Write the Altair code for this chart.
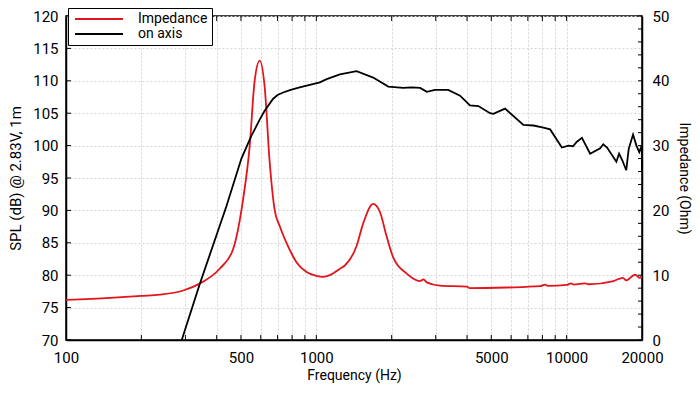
import altair as alt
import pandas as pd

# ---------------- data ----------------
imp_freq = [100, 150, 200, 237, 292, 342, 411, 465, 509, 542, 567, 594, 622, 651, 682,
            714, 737, 760, 800, 833, 914, 1000, 1065, 1132, 1242, 1300, 1448, 1539, 1687,
            1795, 1909, 2028, 2296, 2594, 2680, 2760, 3118, 3990, 4100, 5768, 7833,
            8204, 8400, 10020, 10400, 10700, 11860, 12200, 15380, 16780, 17300,
            18790, 19540, 20000]
imp_ohm = [6.2, 6.5, 6.8, 7.0, 7.6, 8.7, 11.0, 14.0, 21.5, 30.0, 40.0, 43.1, 39.0, 27.5, 20.0,
           17.6, 16.2, 15.0, 13.2, 12.0, 10.5, 9.9, 9.75, 10.0, 11.0, 11.5, 14.5, 18.0, 21.0,
           19.75, 16.0, 12.75, 10.25, 9.1, 9.35, 8.9, 8.4, 8.25, 8.0, 8.1, 8.3,
           8.55, 8.35, 8.5, 8.75, 8.55, 8.75, 8.6, 9.1, 9.6, 9.2,
           10.1, 9.6, 9.9]

spl_freq = [290, 342, 437, 502, 550, 594, 620, 671, 700, 737, 790, 858, 1033, 1100, 1242,
            1448, 1687, 1938, 2224, 2402, 2600, 2763, 2978, 3366, 3750, 4110, 4440, 4943,
            5096, 5675, 6716, 7366, 8000, 8590, 9570, 10170, 10600, 10990, 11510, 12410,
            13610, 14000, 14500, 15380, 15800, 16200, 16700, 17300, 17700, 18420,
            19000, 19500, 19950, 20000]
spl_db = [70.0, 78.6, 90.6, 98.0, 101.5, 104.0, 105.3, 107.2, 107.8, 108.2, 108.6, 109.0,
          109.75, 110.25, 111.0, 111.5, 110.5, 109.1, 108.9, 109.0, 108.9, 108.3, 108.6,
          108.6, 107.7, 106.2, 106.1, 105.0, 104.9, 105.7, 103.2, 103.1, 102.8, 102.5,
          99.7, 100.0, 99.9, 100.6, 101.2, 98.75, 99.6, 100.2, 99.7, 98.2, 97.5, 98.75,
          97.7, 96.2, 99.5, 101.7, 100.0, 99.0, 100.0, 96.0]

grid_freqs = [100, 200, 300, 400, 500, 600, 700, 800, 900, 1000,
              2000, 3000, 4000, 5000, 6000, 7000, 8000, 9000, 10000, 20000]
label_freqs = [100, 500, 1000, 5000, 10000, 20000]
spl_ticks = [70, 75, 80, 85, 90, 95, 100, 105, 110, 115, 120]
imp_major = [0, 10, 20, 30, 40, 50]
imp_minor = list(range(0, 51, 2))
series_names = ["Impedance", "on axis"]
series_colors = ["#e3141b", "#000000"]

# ---------------- chart ----------------
W, H = 576, 324
FONT = "Roboto"

imp_df = pd.DataFrame({"f": imp_freq, "z": imp_ohm, "s": series_names[0]})
spl_df = pd.DataFrame({"f": spl_freq, "db": spl_db, "s": series_names[1]})

xscale = alt.Scale(type="log", domain=[100, 20000], nice=False)

legend = alt.Legend(
    title=None, orient="none", legendX=2, legendY=-8,
    strokeColor="black", fillColor="white", padding=4, cornerRadius=0,
    symbolType="M-4,0H4", symbolSize=144, symbolStrokeWidth=2,
    symbolOffset=20, labelOffset=32, rowPadding=1,
    labelFont=FONT, labelFontSize=14, labelColor="black",
)
color = alt.Color("s:N", scale=alt.Scale(domain=series_names, range=series_colors), legend=legend)

label_expr = "indexof([" + ",".join(str(v) for v in label_freqs) + "], datum.value) >= 0 ? format(datum.value, 'd') : ''"

xaxis = alt.Axis(
    title="Frequency (Hz)", values=grid_freqs, labelExpr=label_expr,
    labelOverlap=False, labelFlush=False, grid=True, gridDash=[2, 2],
    gridColor="#d4d4d4", ticks=False, labelPadding=10, titlePadding=3,
    titleFontSize=14,
)

spl_line = alt.Chart(spl_df).mark_line(strokeWidth=1.8, clip=True).encode(
    x=alt.X("f:Q", scale=xscale, axis=xaxis),
    y=alt.Y("db:Q", scale=alt.Scale(domain=[70, 120], nice=False),
            axis=alt.Axis(title="SPL (dB) @ 2.83V, 1m", orient="left", values=spl_ticks,
                          grid=True, gridDash=[2, 2], gridColor="#d4d4d4", ticks=False,
                          labelFlush=False, labelPadding=8, titlePadding=9)),
    color=color,
)

imp_line = alt.Chart(imp_df).mark_line(strokeWidth=1.8, clip=True, interpolate="monotone").encode(
    x=alt.X("f:Q", scale=xscale, axis=xaxis),
    y=alt.Y("z:Q", scale=alt.Scale(domain=[0, 50], nice=False),
            axis=alt.Axis(title="Impedance (Ohm)", orient="right", values=imp_major,
                          grid=False, ticks=False, labelFlush=False, labelPadding=10,
                          titlePadding=8, titleFontSize=14)),
    color=color,
)

xt_df = pd.DataFrame({"f": grid_freqs[1:-1]})
bottom_ticks = alt.Chart(xt_df).mark_rule(color="black", strokeWidth=1).encode(
    x=alt.X("f:Q", scale=xscale, axis=xaxis), y=alt.value(H), y2=alt.value(H - 5))
top_ticks = alt.Chart(xt_df).mark_rule(color="black", strokeWidth=1).encode(
    x=alt.X("f:Q", scale=xscale, axis=xaxis), y=alt.value(0), y2=alt.value(5))
left_ticks = alt.Chart(pd.DataFrame({"v": spl_ticks})).mark_rule(color="black", strokeWidth=1).encode(
    y=alt.Y("v:Q", scale=alt.Scale(domain=[70, 120], nice=False), axis=None),
    x=alt.value(0), x2=alt.value(5))
right_ticks = alt.Chart(pd.DataFrame({"v": imp_minor})).mark_rule(color="black", strokeWidth=1).encode(
    y=alt.Y("v:Q", scale=alt.Scale(domain=[0, 50], nice=False), axis=None),
    x=alt.value(W - 4), x2=alt.value(W))

chart = alt.layer(imp_line, spl_line, bottom_ticks, top_ticks, left_ticks, right_ticks).resolve_scale(
    y="independent"
).properties(
    width=W, height=H,
    autosize=alt.AutoSizeParams(type="none"),
    padding={"left": 58, "top": 8, "right": 50, "bottom": 45},
).configure_view(
    stroke="black", strokeWidth=1.5
).configure_axis(
    labelFont=FONT, titleFont=FONT, labelFontSize=15, titleFontSize=15,
    titleFontWeight="normal", labelColor="black", titleColor="black",
    domainColor="black", domainWidth=1.5,
)

chart.save("out.html", embed_options={"renderer": "svg", "actions": False})
